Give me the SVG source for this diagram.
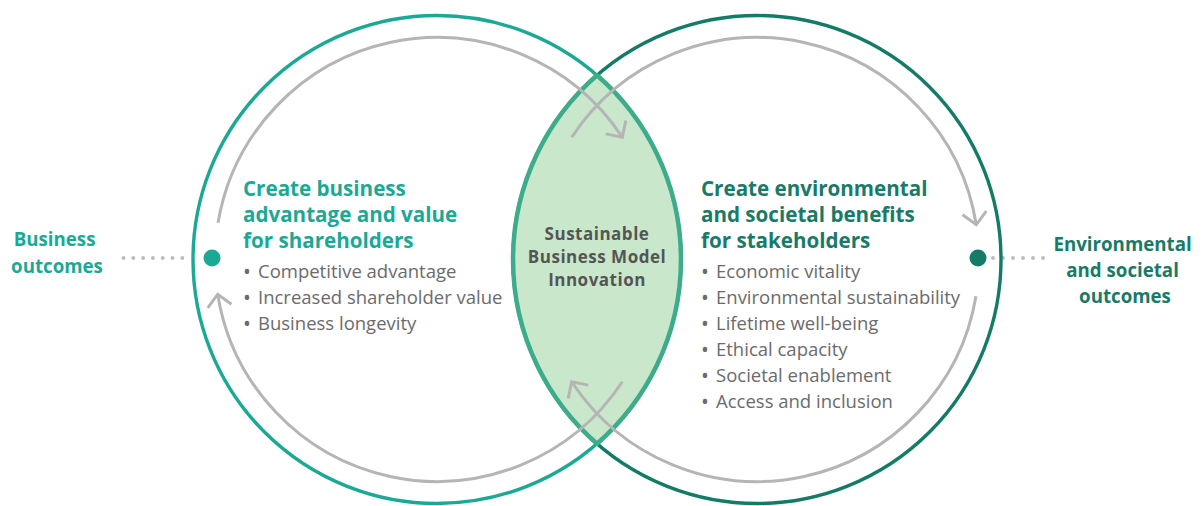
<svg xmlns="http://www.w3.org/2000/svg" width="1203" height="506" viewBox="0 0 1203 506">
  <defs>
    <style>
      .ring { fill: none; stroke-width: 3.4; }
      .flow { fill: none; stroke: #b5b5b5; stroke-width: 3; }
      .dots { fill: none; stroke: #bdbdbd; stroke-width: 4; stroke-linecap: round; }
      .head { font-family: "Open Sans", "Liberation Sans", sans-serif; font-weight: 700; font-size: 20.6px; }
      .item { font-family: "Open Sans", "Liberation Sans", sans-serif; font-size: 18.5px; fill: #6b6b6b; }
      .bul { font-size: 21px; }
      .side { font-family: "Open Sans", "Liberation Sans", sans-serif; font-weight: 700; font-size: 18.7px; text-anchor: middle; }
      .core { font-family: "Open Sans", "Liberation Sans", sans-serif; font-weight: 700; font-size: 17px; letter-spacing: 0.5px; fill: #555555; text-anchor: middle; }
    </style>
    <marker id="chevron" markerUnits="userSpaceOnUse" viewBox="-16 -16 20 32" refX="0" refY="0" markerWidth="20" markerHeight="32" orient="auto">
      <path d="M-12,-12 L0,0 L-12,12" fill="none" stroke="#b5b5b5" stroke-width="3"/>
    </marker>
  </defs>

  <!-- dotted leaders to the outcome labels -->
  <g id="leaders">
    <line class="dots" x1="123.5" y1="258" x2="192" y2="258" stroke-dasharray="0 9.8"/>
    <line class="dots" x1="993" y1="258" x2="1053" y2="258" stroke-dasharray="0 10"/>
  </g>

  <!-- business circle -->
  <g id="circle-business">
    <circle class="ring" cx="437" cy="259.5" r="244" stroke="#1ba995"/>
  </g>

  <!-- stakeholder circle -->
  <g id="circle-stakeholders">
    <circle class="ring" cx="757" cy="259.5" r="244" stroke="#137b66"/>
  </g>

  <!-- overlap lens -->
  <g id="lens-innovation">
    <path d="M597,75.3 A244,244 0 0 1 597,443.7 A244,244 0 0 1 597,75.3 Z" fill="#c9e7cb" stroke="#3dac8a" stroke-width="4.5" stroke-linejoin="round"/>
    <text class="core" x="597" y="240">Sustainable</text>
    <text class="core" x="597" y="263">Business Model</text>
    <text class="core" x="597" y="286">Innovation</text>
  </g>

  <!-- circulating flow arrows -->
  <g id="connectors">
    <path class="flow" d="M218.04,222.86 A222,222 0 0 1 622.34,137.29" marker-end="url(#chevron)"/>
    <path class="flow" d="M622.34,381.71 A222,222 0 0 1 217.73,294.23" marker-end="url(#chevron)"/>
    <path class="flow" d="M571.66,137.29 A222,222 0 0 1 976.27,224.77" marker-end="url(#chevron)"/>
    <path class="flow" d="M975.96,296.14 A222,222 0 0 1 571.66,381.71" marker-end="url(#chevron)"/>
  </g>

  <!-- anchor points -->
  <g id="anchor-business">
    <circle cx="212" cy="258" r="8.5" fill="#1ba995"/>
  </g>
  <g id="anchor-stakeholders">
    <circle cx="978" cy="258" r="8.5" fill="#137b66"/>
  </g>

  <!-- business value text -->
  <g id="text-business">
    <text class="head" fill="#1ba995">
      <tspan x="243" y="196">Create business</tspan>
      <tspan x="243" y="222">advantage and value</tspan>
      <tspan x="243" y="248">for shareholders</tspan>
    </text>
    <text class="item">
      <tspan class="bul" x="243" y="279">•</tspan><tspan x="258" y="278">Competitive advantage</tspan>
      <tspan class="bul" x="243" y="305">•</tspan><tspan x="258" y="304">Increased shareholder value</tspan>
      <tspan class="bul" x="243" y="331">•</tspan><tspan x="258" y="330">Business longevity</tspan>
    </text>
  </g>

  <!-- stakeholder benefit text -->
  <g id="text-stakeholders">
    <text class="head" fill="#197a68">
      <tspan x="701" y="196">Create environmental</tspan>
      <tspan x="701" y="222">and societal benefits</tspan>
      <tspan x="701" y="248">for stakeholders</tspan>
    </text>
    <text class="item">
      <tspan class="bul" x="701" y="279">•</tspan><tspan x="716" y="278">Economic vitality</tspan>
      <tspan class="bul" x="701" y="305">•</tspan><tspan x="716" y="304">Environmental sustainability</tspan>
      <tspan class="bul" x="701" y="331">•</tspan><tspan x="716" y="330">Lifetime well-being</tspan>
      <tspan class="bul" x="701" y="357">•</tspan><tspan x="716" y="356">Ethical capacity</tspan>
      <tspan class="bul" x="701" y="383">•</tspan><tspan x="716" y="382">Societal enablement</tspan>
      <tspan class="bul" x="701" y="409">•</tspan><tspan x="716" y="408">Access and inclusion</tspan>
    </text>
  </g>

  <!-- outcome labels -->
  <g id="label-business-outcomes">
    <text class="side" fill="#1ba995">
      <tspan x="57" y="246">Business</tspan>
      <tspan x="57" y="273">outcomes</tspan>
    </text>
  </g>
  <g id="label-env-outcomes">
    <text class="side" fill="#197a68">
      <tspan x="1125" y="251">Environmental</tspan>
      <tspan x="1125" y="277">and societal</tspan>
      <tspan x="1125" y="303">outcomes</tspan>
    </text>
  </g>
</svg>
